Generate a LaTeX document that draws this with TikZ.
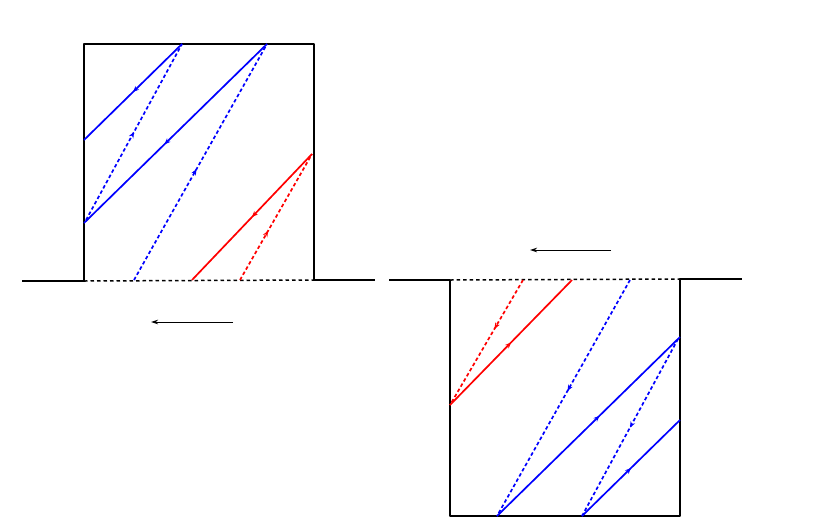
\documentclass[tikz,border=0pt]{standalone}
\usetikzlibrary{arrows.meta,decorations.markings}
\tikzset{
    wall/.style={line width=1.8pt, black},
    gap/.style={line width=1.5pt, black, dash pattern=on 3.5pt off 3pt},
    ray/.style={line width=1.7pt},
    back/.style={line width=1.7pt, dash pattern=on 3.5pt off 2.5pt},
    midarrow/.style={postaction={decorate}, decoration={markings,
        mark=at position #1 with {\arrow{Stealth[length=6pt,width=5pt]}}}},
    midarrow/.default=0.5,
    flow/.style={line width=1pt, -{Stealth[length=7pt,width=4.5pt]}}
}
\begin{document}
\begin{tikzpicture}[x=1pt, y=-1pt]
    \useasboundingbox (0,0) rectangle (830,531);
    % left box (bump upwards)
    \coordinate (la) at (22,281);
    \coordinate (lb) at (84,281);
    \coordinate (lc) at (84,44);
    \coordinate (ld) at (314,44);
    \coordinate (le) at (314,280);
    \coordinate (lf) at (375,280);
    \draw[wall, line join=round] (la) -- (lb) -- (lc) -- (ld) -- (le) -- (lf);
    \draw[gap] (lb) -- (le);
    % left box rays
    \coordinate (p1) at (134,280);
    \coordinate (p2) at (267,44);
    \coordinate (p3) at (84,223);
    \coordinate (p4) at (86,220);
    \coordinate (p5) at (182,44);
    \coordinate (p6) at (84,140);
    \draw[back, blue, midarrow=0.47] (p1) -- (p2);
    \draw[ray, blue, midarrow=0.56] (p2) -- (p3);
    \draw[back, blue, midarrow=0.5] (p4) -- (p5);
    \draw[ray, blue, midarrow] (p5) -- (p6);
    \coordinate (r1) at (240,280);
    \coordinate (r2) at (312,154);
    \coordinate (r3) at (192,280);
    \draw[back, red, midarrow=0.39] (r1) -- (r2);
    \draw[ray, red, midarrow] (r2) -- (r3);
    % left flow arrow
    \coordinate (lt) at (233,322);
    \coordinate (lh) at (151,322);
    \draw[flow] (lt) -- (lh);

    % right box (well downwards)
    \coordinate (ra) at (389,280);
    \coordinate (rb) at (450,280);
    \coordinate (rc) at (450,516);
    \coordinate (rd) at (680,516);
    \coordinate (re) at (680,279);
    \coordinate (rf) at (742,279);
    \draw[wall, line join=round] (ra) -- (rb) -- (rc) -- (rd) -- (re) -- (rf);
    \draw[gap] (rb) -- (re);
    % right box rays
    \coordinate (q1) at (630,280);
    \coordinate (q2) at (497,516);
    \coordinate (q3) at (680,337);
    \coordinate (q4) at (678,339);
    \coordinate (q5) at (582,516);
    \coordinate (q6) at (680,420);
    \draw[back, blue, midarrow=0.47] (q1) -- (q2);
    \draw[ray, blue, midarrow=0.56] (q2) -- (q3);
    \draw[back, blue, midarrow=0.5] (q4) -- (q5);
    \draw[ray, blue, midarrow] (q5) -- (q6);
    \coordinate (s1) at (523,280);
    \coordinate (s2) at (450,405);
    \coordinate (s3) at (572,280);
    \draw[back, red, midarrow=0.39] (s1) -- (s2);
    \draw[ray, red, midarrow] (s2) -- (s3);
    % right flow arrow
    \coordinate (rt) at (611,250);
    \coordinate (rh) at (530,250);
    \draw[flow] (rt) -- (rh);
\end{tikzpicture}
\end{document}
